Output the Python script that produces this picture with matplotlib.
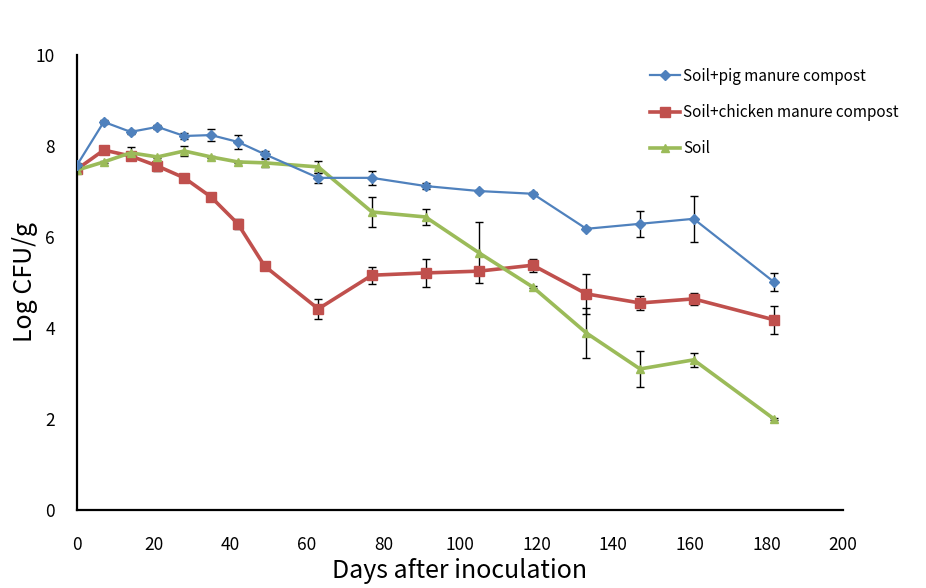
import matplotlib
matplotlib.use("Agg")
import matplotlib.pyplot as plt
from matplotlib.lines import Line2D

plt.rcParams['font.family'] = ['Noto Sans CJK KR', 'DejaVu Sans']

days = [0, 7, 14, 21, 28, 35, 42, 49, 63, 77, 91, 105, 119, 133, 147, 161, 182]

pig = [7.58, 8.53, 8.31, 8.42, 8.22, 8.24, 8.09, 7.82, 7.30, 7.30, 7.12, 7.01, 6.95, 6.18, 6.29, 6.40, 5.01]
pig_err = [0.05, 0.05, 0.05, 0.05, 0.07, 0.13, 0.16, 0.08, 0.11, 0.15, 0.07, 0.03, 0.03, 0.03, 0.29, 0.51, 0.19]

chicken = [7.49, 7.91, 7.78, 7.56, 7.30, 6.88, 6.29, 5.36, 4.42, 5.16, 5.21, 5.25, 5.38, 4.75, 4.55, 4.64, 4.18]
chicken_err = [0.05, 0.05, 0.08, 0.10, 0.05, 0.04, 0.11, 0.03, 0.22, 0.19, 0.31, 0.08, 0.14, 0.44, 0.16, 0.14, 0.31]

soil = [7.47, 7.65, 7.85, 7.76, 7.89, 7.76, 7.65, 7.63, 7.54, 6.55, 6.44, 5.65, 4.90, 3.89, 3.10, 3.30, 2.00]
soil_err = [0.03, 0.03, 0.12, 0.03, 0.10, 0.03, 0.03, 0.09, 0.13, 0.34, 0.18, 0.67, 0.03, 0.55, 0.40, 0.16, 0.03]

labels = ["Soil+pig manure compost", "Soil+chicken manure compost", "Soil"]
xticks = [0, 20, 40, 60, 80, 100, 120, 140, 160, 180, 200]
yticks = [0, 2, 4, 6, 8, 10]

styles = [
    dict(color='#4F81BD', lw=1.6, marker='D', ms=5),
    dict(color='#C0504D', lw=2.6, marker='s', ms=7),
    dict(color='#9BBB59', lw=2.6, marker='^', ms=6),
]

fig = plt.figure(figsize=(9.26, 5.88), dpi=100)
ax = fig.add_axes([77/926, 1-510/588, (843-77)/926, (510-55)/588])

for vals, errs, st, z in [(pig, pig_err, styles[0], 3), (chicken, chicken_err, styles[1], 2), (soil, soil_err, styles[2], 2)]:
    ax.errorbar(days, vals, yerr=errs, ecolor='black', elinewidth=1, capsize=3, capthick=1,
                zorder=z, **st)

ax.set_xlim(0, 200)
ax.set_ylim(0, 10)
ax.set_xticks(xticks)
ax.set_yticks(yticks)
ax.tick_params(axis='both', length=0, labelsize=12.5)
ax.tick_params(axis='x', pad=19)
ax.tick_params(axis='y', pad=16)
for s in ['top', 'right']:
    ax.spines[s].set_visible(False)
for s in ['left', 'bottom']:
    ax.spines[s].set_linewidth(1.6)
    ax.spines[s].set_color('black')

ax.set_xlabel("Days after inoculation", fontsize=18)
ax.xaxis.set_label_coords(0.499, -0.106)
ax.set_ylabel("Log CFU/g", fontsize=18)
ax.yaxis.set_label_coords(-0.051, 0.5)

handles = [Line2D([], [], **st) for st in styles]
fig.legend(handles, labels, loc='upper left', bbox_to_anchor=(636/926, 1-54/588),
           frameon=False, fontsize=11, labelspacing=1.25, handlelength=2.0,
           handletextpad=0.2)

fig.savefig("out.png", dpi=100)
